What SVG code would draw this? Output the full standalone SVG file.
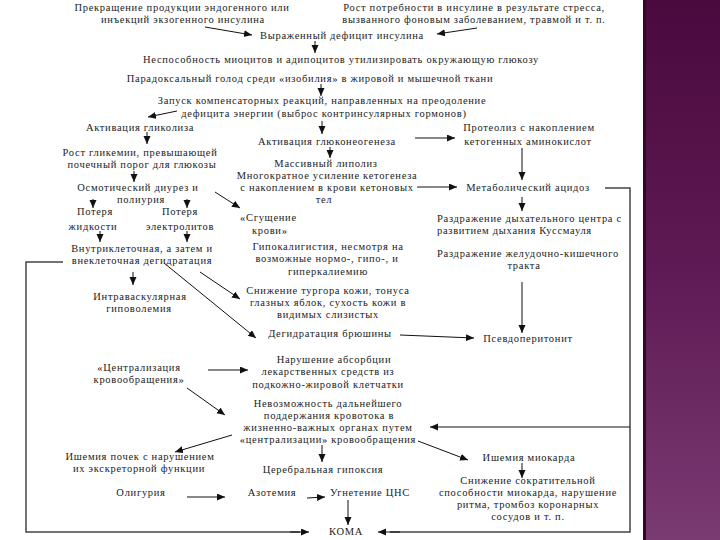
<svg xmlns="http://www.w3.org/2000/svg" width="720" height="540" viewBox="0 0 720 540">
<defs>
<style>
.t{font-family:"Liberation Serif","DejaVu Serif","Times New Roman",serif;font-size:10.5px;letter-spacing:0.7px;fill:#222;text-anchor:middle}
.s{text-anchor:start}
.c{stroke:#111;stroke-width:1;fill:none;marker-end:url(#ah)}
.b{stroke:#444;stroke-width:1.5;fill:none}
</style>
<marker id="ah" markerUnits="userSpaceOnUse" markerWidth="9" markerHeight="8" refX="8" refY="3.5" orient="auto">
<path d="M0,0 L8,3.5 L0,7 z" fill="#111"/>
</marker>
<linearGradient id="band" x1="0" y1="0" x2="0" y2="1">
<stop offset="0" stop-color="#4a0a3e"/>
<stop offset="0.5" stop-color="#5e1a54"/>
<stop offset="1" stop-color="#7a3a72"/>
</linearGradient>
</defs>
<rect width="720" height="540" fill="#fff"/>
<rect x="643" y="0" width="77" height="540" fill="url(#band)"/>
<rect x="643" y="0" width="3" height="540" fill="#33062b"/>

<g id="connectors">
<line class="c" x1="205" y1="27" x2="252" y2="35"/>
<line class="c" x1="477" y1="28" x2="437" y2="34"/>
<line class="c" x1="315" y1="41" x2="315" y2="53"/>
<line class="c" x1="321" y1="84" x2="321" y2="96"/>
<line class="c" x1="177" y1="111" x2="148" y2="117"/>
<line class="c" x1="322" y1="121" x2="322" y2="134"/>
<line class="c" x1="147" y1="132" x2="147" y2="144"/>
<line class="c" x1="134" y1="171" x2="134" y2="182"/>
<line class="c" x1="415" y1="138" x2="455" y2="138"/>
<line class="c" x1="330" y1="147" x2="330" y2="158"/>
<line class="c" x1="522" y1="148" x2="522" y2="180"/>
<line class="c" x1="417" y1="187" x2="457" y2="187"/>
<line class="c" x1="522" y1="197" x2="522" y2="211"/>
<line class="c" x1="93" y1="199" x2="93" y2="208"/>
<line class="c" x1="187" y1="199" x2="187" y2="208"/>
<line class="c" x1="100" y1="231" x2="100" y2="242"/>
<line class="c" x1="187" y1="231" x2="187" y2="242"/>
<line class="c" x1="215" y1="192" x2="240" y2="208"/>
<line class="c" x1="133" y1="272" x2="133" y2="285"/>
<line class="c" x1="200" y1="272" x2="240" y2="299"/>
<line class="c" x1="164" y1="263" x2="256" y2="338"/>
<line class="c" x1="522" y1="282" x2="522" y2="333"/>
<line class="c" x1="400" y1="335" x2="474" y2="338"/>
<line class="c" x1="208" y1="370" x2="248" y2="370"/>
<line class="c" x1="187" y1="388" x2="225" y2="415"/>
<line class="c" x1="232" y1="435" x2="175" y2="452"/>
<line class="c" x1="322" y1="445" x2="322" y2="462"/>
<line class="c" x1="418" y1="441" x2="468" y2="460"/>
<line class="c" x1="522" y1="463" x2="522" y2="478"/>
<line class="c" x1="187" y1="497" x2="225" y2="497"/>
<line class="c" x1="307" y1="498" x2="325" y2="497"/>
<line class="c" x1="348" y1="500" x2="348" y2="525"/>
<polyline class="b" points="63,262 26,262 26,532 300,532"/>
<line class="c" x1="290" y1="532" x2="309" y2="532"/>
<polyline class="b" points="605,188 630,188 630,532 390,532"/>
<line class="c" x1="400" y1="532" x2="378" y2="532"/>
<line class="c" x1="630" y1="427" x2="430" y2="427"/>
</g>

<g id="n1"><text class="t"><tspan x="182" y="11">Прекращение продукции эндогенного или</tspan><tspan x="183" y="23">инъекций экзогенного инсулина</tspan></text></g>
<g id="n2"><text class="t"><tspan x="474" y="11">Рост потребности в инсулине в результате стресса,</tspan><tspan x="474" y="23">вызванного фоновым заболеванием, травмой и т. п.</tspan></text></g>
<g id="n3"><text class="t" x="342" y="39">Выраженный дефицит инсулина</text></g>
<g id="n4"><text class="t" x="341" y="63">Неспособность миоцитов и адипоцитов утилизировать окружающую глюкозу</text></g>
<g id="n5"><text class="t" x="310" y="82">Парадоксальный голод среди «изобилия» в жировой и мышечной ткани</text></g>
<g id="n6"><text class="t"><tspan x="322" y="104">Запуск компенсаторных реакций, направленных на преодоление</tspan><tspan x="324" y="117">дефицита энергии (выброс контринсулярных гормонов)</tspan></text></g>
<g id="n7"><text class="t" x="140" y="131">Активация гликолиза</text></g>
<g id="n8"><text class="t" x="327" y="145">Активация глюконеогенеза</text></g>
<g id="n9"><text class="t"><tspan x="529" y="131">Протеолиз с накоплением</tspan><tspan x="528" y="145">кетогенных аминокислот</tspan></text></g>
<g id="n10"><text class="t"><tspan x="140" y="156">Рост гликемии, превышающей</tspan><tspan x="142" y="168">почечный порог для глюкозы</tspan></text></g>
<g id="n11"><text class="t" x="326" y="167">Массивный липолиз</text></g>
<g id="n12"><text class="t"><tspan x="327" y="179">Многократное усиление кетогенеза</tspan><tspan x="327" y="191">с накоплением в крови кетоновых</tspan><tspan x="324" y="203">тел</tspan></text></g>
<g id="n13"><text class="t" x="528" y="191">Метаболический ацидоз</text></g>
<g id="n14"><text class="t"><tspan x="138" y="191">Осмотический диурез и</tspan><tspan x="141" y="203">полиурия</tspan></text></g>
<g id="n15"><text class="t"><tspan x="95" y="215">Потеря</tspan><tspan x="93" y="230">жидкости</tspan></text></g>
<g id="n16"><text class="t"><tspan x="180" y="215">Потеря</tspan><tspan x="180" y="230">электролитов</tspan></text></g>
<g id="n17"><text class="t s"><tspan x="240" y="221">«Сгущение</tspan><tspan x="252" y="234">крови»</tspan></text></g>
<g id="n18"><text class="t s"><tspan x="437" y="222">Раздражение дыхательного центра с</tspan><tspan x="437" y="234">развитием дыхания Куссмауля</tspan></text></g>
<g id="n19"><text class="t"><tspan x="142" y="252">Внутриклеточная, а затем и</tspan><tspan x="142" y="264">внеклеточная дегидратация</tspan></text></g>
<g id="n20"><text class="t"><tspan x="328" y="250">Гипокалигистия, несмотря на</tspan><tspan x="327" y="262">возможные нормо-, гипо-, и</tspan><tspan x="328" y="275">гиперкалиемию</tspan></text></g>
<g id="n21"><text class="t"><tspan x="528" y="257">Раздражение желудочно-кишечного</tspan><tspan x="524" y="269">тракта</tspan></text></g>
<g id="n22"><text class="t"><tspan x="328" y="294">Снижение тургора кожи, тонуса</tspan><tspan x="328" y="306">глазных яблок, сухость кожи в</tspan><tspan x="328" y="318">видимых слизистых</tspan></text></g>
<g id="n23"><text class="t"><tspan x="140" y="300">Интраваскулярная</tspan><tspan x="139" y="312">гиповолемия</tspan></text></g>
<g id="n24"><text class="t" x="330" y="337">Дегидратация брюшины</text></g>
<g id="n25"><text class="t" x="528" y="342">Псевдоперитонит</text></g>
<g id="n26"><text class="t"><tspan x="139" y="371">«Централизация</tspan><tspan x="139" y="383">кровообращения»</tspan></text></g>
<g id="n27"><text class="t"><tspan x="334" y="363">Нарушение абсорбции</tspan><tspan x="328" y="375">лекарственных средств из</tspan><tspan x="328" y="388">подкожно-жировой клетчатки</tspan></text></g>
<g id="n28"><text class="t"><tspan x="328" y="407">Невозможность дальнейшего</tspan><tspan x="329" y="419">поддержания кровотока в</tspan><tspan x="328" y="431">жизненно-важных органах путем</tspan><tspan x="328" y="443">«централизации» кровообращения</tspan></text></g>
<g id="n29"><text class="t"><tspan x="140" y="460">Ишемия почек с нарушением</tspan><tspan x="139" y="472">их экскреторной функции</tspan></text></g>
<g id="n30"><text class="t" x="323" y="473">Церебральная гипоксия</text></g>
<g id="n31"><text class="t" x="529" y="461">Ишемия миокарда</text></g>
<g id="n32"><text class="t"><tspan x="528" y="484">Снижение сократительной</tspan><tspan x="528" y="496">способности миокарда, нарушение</tspan><tspan x="528" y="508">ритма, тромбоз коронарных</tspan><tspan x="528" y="520">сосудов и т. п.</tspan></text></g>
<g id="n33"><text class="t" x="141" y="496">Олигурия</text></g>
<g id="n34"><text class="t" x="272" y="496">Азотемия</text></g>
<g id="n35"><text class="t" x="370" y="496">Угнетение ЦНС</text></g>
<g id="n36"><text class="t" x="346" y="535">КОМА</text></g>
</svg>
